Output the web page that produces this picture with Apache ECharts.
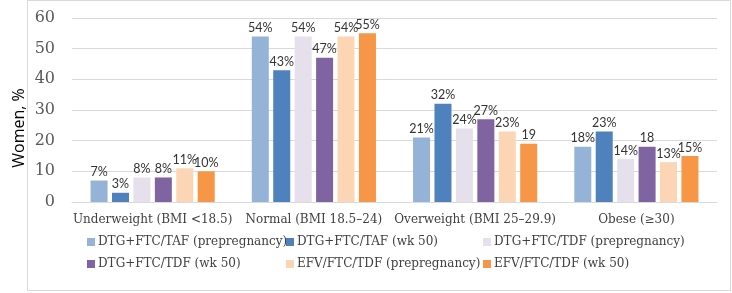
<!DOCTYPE html>
<html>
<head>
<meta charset="utf-8">
<script src="https://cdn.jsdelivr.net/npm/echarts@6/dist/echarts.min.js"></script>
<style>
  body { margin: 0; background: #fff; }
  #frame { position: absolute; left: 27px; top: 0; width: 702px; height: 289px; border: 1px solid #d9d9d9; }
  #chart { position: absolute; left: 0; top: 0; width: 732px; height: 293px; }
</style>
</head>
<body>
<div id="frame"></div>
<div id="chart"></div>
<script>
const categories = ['Underweight (BMI <18.5)', 'Normal (BMI 18.5\u201324)', 'Overweight (BMI 25\u201329.9)', 'Obese (\u226530)']
const seriesNames = [
  'DTG+FTC/TAF (prepregnancy)', 'DTG+FTC/TAF (wk 50)', 'DTG+FTC/TDF (prepregnancy)',
  'DTG+FTC/TDF (wk 50)', 'EFV/FTC/TDF (prepregnancy)', 'EFV/FTC/TDF (wk 50)'
]
const yTitle = 'Women, %'
const tafPre = [7, 54, 21, 18]
const tafWk50 = [3, 43, 32, 23]
const tdfPre = [8, 54, 24, 14]
const tdfWk50 = [8, 47, 27, 18]
const efvPre = [11, 54, 23, 13]
const efvWk50 = [10, 55, 19, 15]
// labels as printed (a couple have no % sign in the original)
const tafPreLabels = ['7%', '54%', '21%', '18%']
const tafWk50Labels = ['3%', '43%', '32%', '23%']
const tdfPreLabels = ['8%', '54%', '24%', '14%']
const tdfWk50Labels = ['8%', '47%', '27%', '18']
const efvPreLabels = ['11%', '54%', '23%', '13%']
const efvWk50Labels = ['10%', '55%', '19', '15%']

const colors = ['#95b3d7', '#4f81bd', '#e6e0ec', '#8064a2', '#fcd5b5', '#f79646']
const allData = [tafPre, tafWk50, tdfPre, tdfWk50, efvPre, efvWk50]
const allLabels = [tafPreLabels, tafWk50Labels, tdfPreLabels, tdfWk50Labels, efvPreLabels, efvWk50Labels]

const serifFont = '"DejaVu Serif", serif'

const series = allData.map((d, i) => ({
  name: seriesNames[i],
  type: 'bar',
  data: d,
  barGap: '26%',
  barCategoryGap: '23%',
  itemStyle: { color: colors[i] },
  label: {
    show: true,
    position: 'top',
    distance: 2,
    color: '#333',
    fontFamily: 'Lato',
    fontSize: 12.5,
    formatter: (p) => allLabels[i][p.dataIndex]
  }
}))

const legendBase = {
  orient: 'vertical',
  icon: 'rect',
  itemWidth: 8,
  itemHeight: 8,
  itemGap: 10,
  itemStyle: { borderWidth: 0 },
  textStyle: { fontFamily: serifFont, fontSize: 12, color: '#404040', padding: [0, 0, 0, -2] },
  top: 231
}

const chart = echarts.init(document.getElementById('chart'))
chart.setOption({
  animation: false,
  grid: { left: 72, right: 15, top: 18, bottom: 91 },
  // y axis title, placed like the original (a bit below the plot's middle)
  graphic: [{
    type: 'text',
    x: 19,
    y: 128,
    rotation: Math.PI / 2,
    style: {
      text: yTitle,
      fontFamily: '"Open Sans", sans-serif',
      fontSize: 16,
      fill: '#000',
      align: 'center',
      verticalAlign: 'middle'
    }
  }],
  legend: [
    Object.assign({}, legendBase, { left: 82, data: [seriesNames[0], seriesNames[3]] }),
    Object.assign({}, legendBase, { left: 281, data: [seriesNames[1], seriesNames[4]] }),
    Object.assign({}, legendBase, { left: 478, data: [seriesNames[2], seriesNames[5]] })
  ],
  xAxis: {
    type: 'category',
    data: categories,
    axisTick: { show: false },
    axisLine: { lineStyle: { color: '#d9d9d9' } },
    axisLabel: { interval: 0, fontFamily: serifFont, fontSize: 12, color: '#404040', margin: 12 }
  },
  yAxis: {
    type: 'value',
    min: 0,
    max: 60,
    interval: 10,
    axisLabel: { fontFamily: serifFont, fontSize: 16, color: '#595959', margin: 17 },
    splitLine: { lineStyle: { color: '#d9d9d9' } }
  },
  series: series
})
</script>
</body>
</html>
